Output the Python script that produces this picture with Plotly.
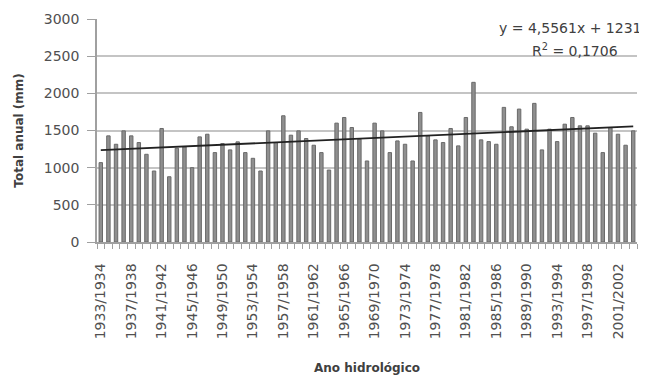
import plotly.graph_objects as go
import numpy as np

start_years = list(range(1933, 2004))
categories = [f"{y}/{y+1}" for y in start_years]
totals = [1068, 1428, 1315, 1495, 1428, 1338, 1180, 955, 1527, 878,
          1261, 1279, 1000, 1414, 1450, 1203, 1324, 1239, 1347, 1203,
          1126, 955, 1495, 1338, 1698, 1437, 1495, 1392, 1302, 1203,
          968, 1599, 1675, 1540, 1383, 1090, 1599, 1495, 1203, 1360,
          1315, 1090, 1743, 1428, 1374, 1338, 1527, 1293, 1675, 2148,
          1374, 1351, 1315, 1811, 1550, 1788, 1518, 1865, 1239, 1518,
          1351, 1585, 1675, 1563, 1563, 1464, 1203, 1540, 1450, 1302,
          1495]
trend_slope = 4.5561
trend_intercept = 1231
eq_text = "y = 4,5561x + 1231"
r2_text = "R<sup>2</sup> = 0,1706"
y_ticks = [0, 500, 1000, 1500, 2000, 2500, 3000]

x = np.arange(1, len(categories) + 1)
label_idx = list(range(0, len(categories), 4))
FONT = "DejaVu Sans"

fig = go.Figure()
fig.add_trace(go.Bar(x=x, y=totals, marker=dict(color="#8f8f8f", line=dict(color="#6a6a6a", width=1)),
                     showlegend=False))
fig.add_trace(go.Scatter(x=[x[0], x[-1]], y=[trend_slope * x[0] + trend_intercept, trend_slope * x[-1] + trend_intercept],
                         mode="lines", line=dict(color="#222222", width=1.8), showlegend=False))

# page body has an 8px default margin; size the figure to compensate
fig.update_layout(
    width=639, height=370,
    margin=dict(l=89, r=10, t=11, b=136),
    paper_bgcolor="white", plot_bgcolor="white",
    bargap=0.55,
    font=dict(family=FONT, color="#505050"),
)
fig.update_xaxes(
    range=[0.5, len(categories) + 0.5], automargin=False,
    tickmode="array", tickvals=[x[i] for i in label_idx], ticktext=[categories[i] for i in label_idx],
    tickangle=-90, tickfont=dict(family=FONT, size=14, color="#505050"), ticks="", ticklabelstandoff=14,
    showline=True, linecolor="#a0a0a0", linewidth=1.5, showgrid=False,
    minor=dict(tickmode="linear", tick0=0.5, dtick=1, ticks="outside", ticklen=5, tickcolor="#a0a0a0", showgrid=False),
)
fig.update_yaxes(
    range=[0, 3000], tickvals=y_ticks, automargin=False,
    tickfont=dict(family=FONT, size=14, color="#505050"),
    ticks="outside", ticklen=8, tickcolor="#a0a0a0", ticklabelstandoff=5,
    showline=True, linecolor="#a0a0a0", linewidth=1.5,
    showgrid=True, gridcolor="#c4c4c4", gridwidth=1.5,
)
fig.add_annotation(xref="paper", yref="paper", x=-0.146, y=0.5, xanchor="center", yanchor="middle",
                   text="<b>Total anual (mm)</b>", textangle=-90, showarrow=False,
                   font=dict(family=FONT, size=12, color="#404040"))
fig.add_annotation(xref="paper", yref="paper", x=0.5, y=-0.565, xanchor="center", yanchor="middle",
                   text="<b>Ano hidrológico</b>", showarrow=False,
                   font=dict(family=FONT, size=12, color="#404040"))
fig.add_annotation(xref="paper", yref="paper", x=1.011, y=0.96, xanchor="right", yanchor="middle",
                   text=eq_text, showarrow=False, font=dict(family=FONT, size=14, color="#404040"))
fig.add_annotation(xref="paper", yref="paper", x=0.885, y=0.861, xanchor="center", yanchor="middle",
                   text=r2_text, showarrow=False, font=dict(family=FONT, size=14, color="#404040"))
fig.write_html("out.html")
